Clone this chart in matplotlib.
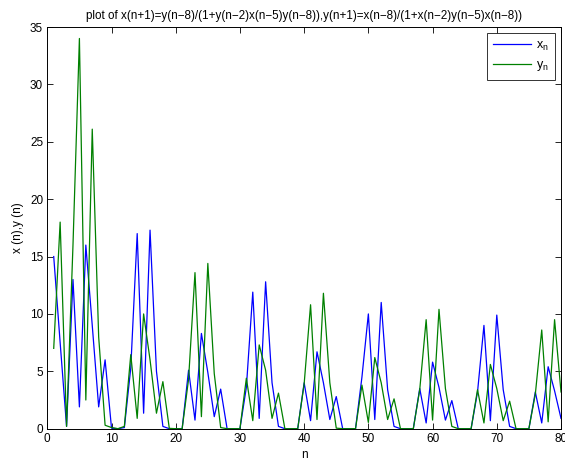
import matplotlib
matplotlib.use("Agg")
import matplotlib.pyplot as plt
import numpy as np

plt.rcParams['font.family'] = ['Liberation Sans', 'DejaVu Sans']

n_vals = list(range(1, 81))
x_vals = [15.0, 7.5, 0.2, 13.0, 1.9, 16.0, 9.0, 1.9, 6.0, 0.05,
          0.0, 0.1, 5.3, 17.0, 1.35, 17.3, 5.0, 0.2, 0.0, 0.0,
          0.0, 5.1, 0.75, 8.3, 4.9, 1.05, 3.45, 0.0, 0.0, 0.0,
          3.6, 11.9, 0.9, 12.8, 4.0, 0.2, 0.0, 0.0, 0.0, 4.0,
          0.7, 6.7, 4.0, 0.8, 2.8, 0.0, 0.0, 0.0, 4.5, 10.0,
          0.8, 11.0, 3.4, 0.2, 0.0, 0.0, 0.0, 3.5, 0.5, 5.8,
          3.6, 0.75, 2.45, 0.0, 0.0, 0.0, 3.2, 9.0, 0.7, 9.9,
          3.4, 0.2, 0.0, 0.0, 0.0, 3.2, 0.5, 5.4, 3.3, 0.9]
y_vals = [7.0, 18.0, 0.2, 16.0, 34.0, 2.5, 26.1, 8.0, 0.3, 0.1,
          0.0, 0.2, 6.45, 0.9, 10.0, 6.0, 1.35, 4.1, 0.03, 0.0,
          0.0, 4.3, 13.6, 1.05, 14.4, 4.8, 0.1, 0.0, 0.0, 0.0,
          4.4, 0.7, 7.3, 5.1, 0.9, 3.1, 0.0, 0.0, 0.0, 3.9,
          10.8, 0.8, 11.8, 4.0, 0.05, 0.0, 0.0, 0.0, 3.8, 0.55,
          6.2, 4.0, 0.8, 2.6, 0.0, 0.0, 0.0, 3.4, 9.5, 0.75,
          10.4, 3.5, 0.2, 0.0, 0.0, 0.0, 3.4, 0.5, 5.6, 3.5,
          0.7, 2.4, 0.0, 0.0, 0.0, 3.0, 8.6, 0.6, 9.5, 3.2]

title = 'plot of x(n+1)=y(n\u22128)/(1+y(n\u22122)x(n\u22125)y(n\u22128)),y(n+1)=x(n\u22128)/(1+x(n\u22122)y(n\u22125)x(n\u22128))'

fig = plt.figure(figsize=(5.65, 4.62), dpi=100)
ax = fig.add_axes([47.3/565, (462-428.7)/462, (561-47.3)/565, (428.7-27)/462])

ax.plot(n_vals, x_vals, color=(0, 0, 1), lw=0.9, label=r'$\mathregular{x_n}$')
ax.plot(n_vals, y_vals, color=(0, 0.5, 0), lw=0.9, label=r'$\mathregular{y_n}$')

ax.set_xlim(0, 80)
ax.set_ylim(0, 35)
ax.set_xticks(range(0, 81, 10))
ax.set_yticks(range(0, 36, 5))
ax.tick_params(direction='in', top=True, right=True, labelsize=8.5, length=4, width=0.6, pad=3)
for s in ax.spines.values():
    s.set_linewidth(0.7)

ax.set_xlabel('n', fontsize=8.5, labelpad=3)
ax.set_ylabel('x (n),y (n)', fontsize=8.5, labelpad=4)
ax.set_title(title, fontsize=8.4, pad=6)

leg = ax.legend(loc='upper right', fontsize=9, frameon=True, fancybox=False,
                edgecolor='black', handlelength=3.0, borderaxespad=0.5,
                labelspacing=0.55, handletextpad=0.4, borderpad=0.5)
leg.get_frame().set_linewidth(0.7)

fig.savefig('out.png', dpi=100)
